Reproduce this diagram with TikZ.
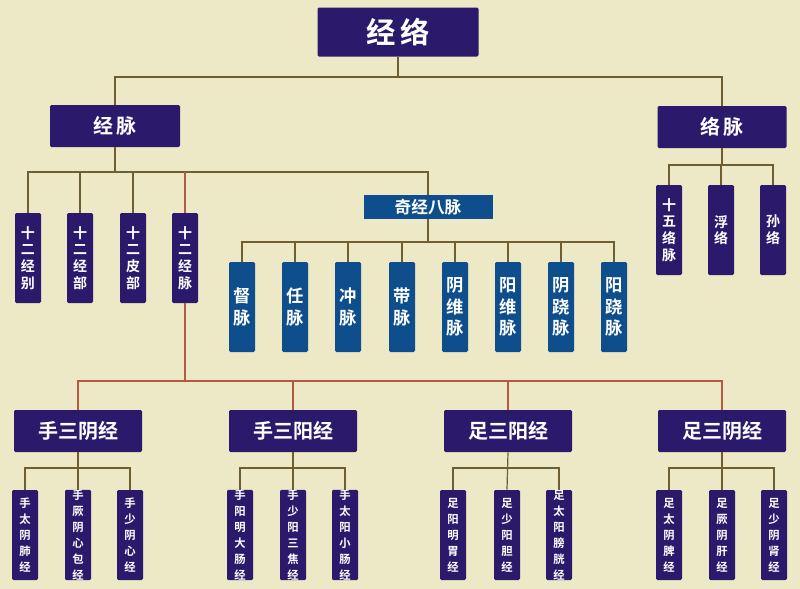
\documentclass[tikz,border=0pt]{standalone}
\usepackage{fontspec}
\newfontfamily\cjk{Noto Sans CJK SC}[BoldFont={Noto Sans CJK SC Bold}]
\definecolor{bg}{HTML}{EDE9C6}
\definecolor{pur}{HTML}{2B1A6C}
\definecolor{blu}{HTML}{0E4E8C}
\definecolor{ln}{HTML}{6E5E32}
\definecolor{rl}{HTML}{B55A3E}
\begin{document}
\begin{tikzpicture}[x=0.75pt,y=-0.75pt,
  box/.style={fill=pur,text=white,font=\cjk\bfseries,inner sep=0pt,align=center,rounded corners=1pt,drop shadow/.style={}},
  big/.style={box,minimum width=129pt*0.75/0.75,minimum height=42*0.75pt,font=\cjk\bfseries\fontsize{15}{15}\selectfont},
  vbox/.style={box,minimum width=26*0.75pt,minimum height=90*0.75pt,font=\cjk\bfseries\fontsize{10.5}{12.5}\selectfont},
  vblu/.style={vbox,fill=blu,font=\cjk\bfseries\fontsize{13}{16}\selectfont},
  leaf/.style={vbox,font=\cjk\bfseries\fontsize{8.5}{12}\selectfont},
  c/.style={draw=ln,line width=0.9pt},
  r/.style={draw=rl,line width=0.9pt}]
\fill[bg] (0,0) rectangle (800,589);
\useasboundingbox (0,0) rectangle (800,589);
\node[box,minimum width=161*0.75pt,minimum height=49*0.75pt,font=\cjk\bfseries\fontsize{22}{22}\selectfont] (top) at (398,32) {经\,络};
\node[big,minimum width=130*0.75pt] (jm) at (115,126) {经\,脉};
\node[big,minimum width=129*0.75pt] (lm) at (722,127) {络\,脉};
\node[box,fill=blu,minimum width=129*0.75pt,minimum height=24*0.75pt,font=\cjk\bfseries\fontsize{12.5}{12.5}\selectfont,rounded corners=0pt] (qj) at (428,207) {奇经八脉};
% jing mai children
\foreach \n/\x/\t in {a/28/十\\二\\经\\别, b/80/十\\二\\经\\部, c/133/十\\二\\皮\\部, d/185/十\\二\\经\\脉}
  \node[vbox] (\n) at (\x,258) {\t};
\foreach \n/\x/\t in {q1/242/督\\脉, q2/295/任\\脉, q3/348/冲\\脉, q4/402/带\\脉, q5/455/阴\\维\\脉, q6/508/阳\\维\\脉, q7/561/阴\\跷\\脉, q8/614/阳\\跷\\脉}
  \node[vblu] (\n) at (\x,307) {\t};
\foreach \n/\x/\t in {l1/669/十\\五\\络\\脉, l2/721/浮\\络, l3/773/孙\\络}
  \node[vbox] (\n) at (\x,230) {\t};
% groups
\foreach \n/\x/\t in {g1/78/手三阴经, g2/293/手三阳经, g3/508/足三阳经, g4/722/足三阴经}
  \node[big,minimum width=128*0.75pt] (\n) at (\x,431) {\t};
\foreach \n/\x/\t in {s1/25/手\\太\\阴\\肺\\经, s2/78/手\\厥\\阴\\心\\包\\经, s3/130/手\\少\\阴\\心\\经,
  s4/240/手\\阳\\明\\大\\肠\\经, s5/293/手\\少\\阳\\三\\焦\\经, s6/345/手\\太\\阳\\小\\肠\\经,
  s7/453/足\\阳\\明\\胃\\经, s8/507/足\\少\\阳\\胆\\经, s9/559/足\\太\\阳\\膀\\胱\\经,
  s10/669/足\\太\\阴\\脾\\经, s11/722/足\\厥\\阴\\肝\\经, s12/774/足\\少\\阴\\肾\\经}
  \node[leaf] (\n) at (\x,535) {\t};
% connectors
\draw[c] (top.south) -- (398,77) -| (jm.north);
\draw[c] (398,77) -| (lm.north);
\draw[c] (jm.south) -- (115,172) -| (a.north);
\draw[c] (115,172) -| (b.north);
\draw[c] (115,172) -| (c.north);
\draw[c] (115,172) -| (qj.north);
\draw[r] (185,172) -- (d.north);
\draw[c] (qj.south) -- (428,242);
\draw[c] (q1.north) |- (428,242) -| (q8.north);
\foreach \n/\x in {q2/295,q3/348,q4/402,q5/455,q6/508,q7/561} \draw[c] (\n.north) -- (\x,242);
\draw[c] (lm.south) -- (722,165);
\draw[c] (l1.north) |- (722,165) -| (l3.north);
\draw[c] (l2.north) -- (721,165);
\draw[r] (d.south) -- (185,381);
\draw[r] (g1.north) |- (185,381) -| (g4.north);
\draw[r] (g2.north) -- (293,381);
\draw[r] (g3.north) -- (508,381);
\foreach \g/\a/\b/\m/\x in {g1/s1/s3/s2/78, g2/s4/s6/s5/293, g3/s7/s9/s8/508, g4/s10/s12/s11/722}{
  \draw[c] (\g.south) -- (\m.north);
  \draw[c] (\a.north) |- (\x,468) -| (\b.north);
}
\end{tikzpicture}
\end{document}
